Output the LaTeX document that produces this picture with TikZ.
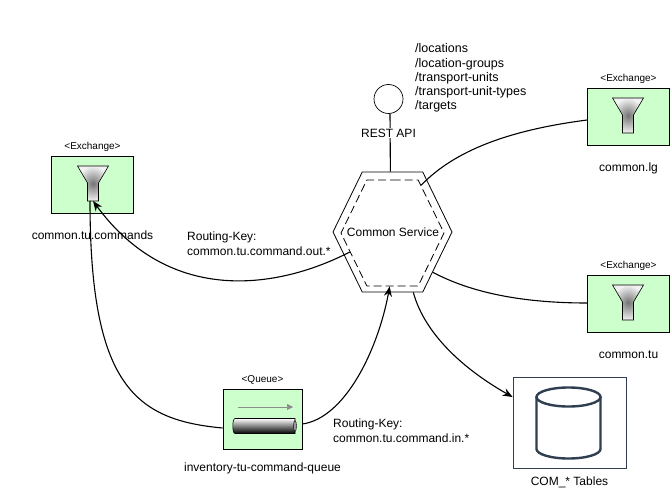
\documentclass[tikz,border=0pt]{standalone}
\usepackage{fontspec}
\setmainfont{Liberation Sans}
\usetikzlibrary{arrows.meta, positioning, shapes.symbols}
\definecolor{boxfill}{HTML}{CCFFCC}
\definecolor{dbline}{HTML}{2F3E50}
\tikzset{
  exbox/.style   = {draw=black, fill=boxfill, line width=0.8pt, minimum width=82pt, minimum height=57pt, inner sep=0pt},
  qbox/.style    = {exbox, minimum width=79pt, minimum height=60pt},
  dbbox/.style   = {draw=dbline, fill=white, line width=0.8pt, minimum width=113pt, minimum height=91pt, inner sep=0pt},
  lbl/.style     = {font=\fontsize{12}{14.3}\selectfont, align=left, inner sep=0pt},
  stereo/.style  = {font=\fontsize{10}{12}\selectfont, inner sep=0pt},
  hexout/.style  = {draw=black, line width=0.8pt, signal, signal to=east and west, signal pointer angle=128,
                    minimum width=119pt, minimum height=120pt, inner sep=0pt},
  hexin/.style   = {hexout, dashed, dash pattern=on 8pt off 4pt, minimum width=103pt, minimum height=106pt},
  link/.style    = {draw=black, line width=1.1pt},
  flow/.style    = {link, -{Stealth[length=10pt, width=8pt]}},
  funnel/.pic    = {
    \draw[line width=0.6pt, shading=radial, inner color=black!55, outer color=black!5]
      (-15.5,0) -- (15.5,0) -- (5.5,17) -- (5.5,35) -- (-5.5,35) -- (-5.5,17) -- cycle;
    \coordinate (-foot) at (0,35);
  },
  tube/.pic      = {
    \draw[-{Triangle[length=6pt, width=6pt]}, draw=black!45, fill=black!45, line width=0.6pt] (-26,-19) -- (29,-19);
    \draw[line width=0.6pt, top color=white, middle color=black!45, bottom color=black]
      (31,-7.5) -- (-29,-7.5) to[out=180, in=180, looseness=0.5] (-29,7.5) -- (31,7.5) -- cycle;
    \draw[line width=0.4pt, fill=black!40] (31,0) ellipse (1.5pt and 5.5pt);
  },
  drum/.pic      = {
    \draw[draw=dbline, line width=2.4pt, line cap=round]
      (-32,-25) -- (-32,27) arc[start angle=180, end angle=360, x radius=32pt, y radius=9.5pt] -- (32,-25);
    \draw[draw=dbline, line width=2.4pt] (0,-25) ellipse (32pt and 9.5pt);
  },
}
\begin{document}
\begin{tikzpicture}[x=1pt, y=-1pt]
  \useasboundingbox (0,0) rectangle (672,492);
  % connectors first
  \node[hexout] (service) at (392.5,232) {};
  \node[hexin] (serviceIn) at (392.5,233) {};
  \node[lbl] (serviceLbl) at (393,232) {Common Service};

  \node[draw=black, line width=0.7pt, circle, minimum size=29pt, inner sep=0pt] (api) at (388.5,99) {};

  \node[exbox] (cmd) at (92.5,185) {};
  \node[exbox] (lg) at (628.5,117) {};
  \node[exbox] (tu) at (628.5,304) {};
  \node[qbox] (queue) at (262.5,419) {};
  \node[dbbox] (tables) at (569.5,422.5) {};

  \pic (cmdF) at (93,166) {funnel};
  \pic (lgF) at (628,98) {funnel};
  \pic (tuF) at (628,285) {funnel};
  \pic at (264,426) {tube};
  \pic at (568.5,422) {drum};

  \draw[link] (api.south) ++(1.5,0) -- (service.92);
  \draw[link] (serviceIn.59) .. controls (455,150) and (510,130) .. (lg.west |- 0,120);
  \draw[link] (service.-45) .. controls (470,292) and (520,303) .. (tu.west |- 0,303);
  \draw[flow] (serviceIn.204) .. controls (280,288) and (171,307) .. (cmdF-foot);
  \draw[link] (queue.west |- 0,428) .. controls (135,420) and (90,385) .. (cmdF-foot -| 90,0);
  \draw[flow] (queue.east |- 0,424) .. controls (345,418) and (378,350) .. (serviceIn.-93);
  \draw[flow] (service.-71) .. controls (425,335) and (465,370) .. (tables.west |- 0,397);

  \node[lbl, fill=white, inner sep=1pt] (apiLbl) at (388.5,133) {REST API};
  \node[lbl, anchor=north west, font=\fontsize{12.5}{14.3}\selectfont] (paths) at (415,43.5) {/locations\\/location-groups\\/transport-units\\/transport-unit-types\\/targets};

  \node[stereo, above=4pt of cmd] (cmdSt) {<Exchange>};
  \node[stereo, above=4pt of lg] (lgSt) {<Exchange>};
  \node[stereo, above=4pt of tu] (tuSt) {<Exchange>};
  \node[stereo, above=4pt of queue] (queueSt) {<Queue>};

  \node[lbl, below=17pt of cmd] (cmdLbl) {common.tu.commands};
  \node[lbl, below=17pt of lg] (lgLbl) {common.lg};
  \node[lbl, below=18pt of tu] (tuLbl) {common.tu};
  \node[lbl, below=13pt of queue] (queueLbl) {inventory-tu-command-queue};
  \node[lbl, below=8pt of tables] (tablesLbl) {COM\_* Tables};

  \node[lbl, anchor=north west] (routeOut) at (187,232) {Routing-Key:\\common.tu.command.out.*};
  \node[lbl, anchor=north west] (routeIn) at (333,419) {Routing-Key:\\common.tu.command.in.*};
\end{tikzpicture}
\end{document}
